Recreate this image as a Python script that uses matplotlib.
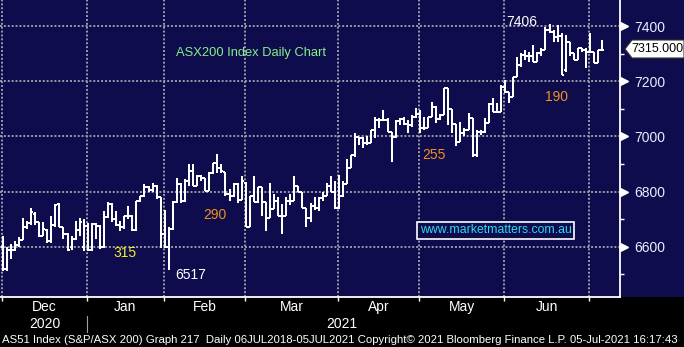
import matplotlib
matplotlib.use('Agg')
import matplotlib.pyplot as plt
from matplotlib.collections import LineCollection
from matplotlib.patches import Rectangle, Polygon
import matplotlib.transforms as mtransforms

# daily OHLC of the ASX200, Dec 2020 - 05 Jul 2021
opens = [
    6600, 6520, 6590, 6590, 6605, 6625, 6670, 6685, 6720, 6690, 6640, 6660, 6620, 6680, 6755, 6670, 6645, 6600, 6630, 6660, 6600,
    6676, 6588, 6683, 6675, 6600, 6707, 6755, 6700, 6680, 6672, 6710, 6713, 6660, 6765, 6785, 6816, 6805, 6820, 6780,
    6647, 6600, 6665, 6761, 6828, 6765, 6837, 6876, 6822, 6858, 6848, 6804, 6869, 6905, 6884, 6870, 6793, 6785, 6828, 6770,
    6833, 6672, 6785, 6761, 6815, 6761, 6705, 6738, 6767, 6713, 6713, 6767, 6767, 6822, 6797, 6742, 6705, 6749, 6742, 6778, 6785, 6822, 6797,
    6740, 6785, 6828, 6884, 6931, 6997, 6995, 6975, 6975, 7022, 7058, 7060, 7060, 7015, 6997, 7055, 7062, 7044, 7040, 7070,
    7080, 7029, 7030, 7069, 7105, 7062, 7076, 7174, 7098, 7044, 6978, 7011, 7022, 7065, 6931, 7015, 7015, 7050, 7116, 7090, 7090,
    7178, 7160, 7142, 7214, 7258, 7294, 7290, 7290, 7269, 7302, 7313, 7385, 7378, 7360, 7365, 7240, 7342, 7302, 7276, 7320, 7313,
    7305, 7305, 7265, 7313,
]
highs = [
    6640, 6600, 6610, 6620, 6635, 6705, 6695, 6740, 6725, 6690, 6690, 6665, 6710, 6755, 6760, 6670, 6650, 6640, 6695, 6705, 6702,
    6685, 6685, 6685, 6680, 6731, 6761, 6760, 6731, 6695, 6713, 6749, 6715, 6767, 6785, 6828, 6820, 6830, 6825, 6780,
    6735, 6670, 6765, 6850, 6830, 6847, 6900, 6900, 6860, 6860, 6850, 6870, 6905, 6938, 6900, 6872, 6811, 6830, 6830, 6858,
    6835, 6785, 6858, 6815, 6815, 6761, 6833, 6790, 6780, 6756, 6780, 6790, 6858, 6822, 6800, 6742, 6760, 6780, 6780, 6800, 6833, 6858, 6840,
    6860, 6840, 6920, 6931, 7011, 6997, 6997, 7000, 7022, 7069, 7065, 7094, 7065, 7015, 7058, 7065, 7069, 7058, 7076, 7102,
    7094, 7069, 7069, 7124, 7112, 7080, 7174, 7174, 7098, 7044, 7051, 7029, 7084, 7065, 7022, 7025, 7065, 7120, 7138, 7120, 7185,
    7204, 7160, 7214, 7287, 7302, 7313, 7305, 7331, 7305, 7320, 7396, 7406, 7385, 7404, 7374, 7367, 7342, 7302, 7320, 7320, 7320,
    7374, 7305, 7313, 7349,
]
lows = [
    6513, 6513, 6555, 6585, 6600, 6625, 6665, 6680, 6680, 6635, 6640, 6615, 6615, 6670, 6670, 6630, 6585, 6590, 6625, 6640, 6585,
    6585, 6585, 6630, 6592, 6597, 6705, 6690, 6676, 6658, 6665, 6700, 6658, 6658, 6762, 6780, 6797, 6800, 6773, 6597,
    6597, 6517, 6660, 6760, 6760, 6761, 6822, 6820, 6820, 6840, 6804, 6804, 6865, 6869, 6869, 6785, 6767, 6780, 6760, 6770,
    6670, 6670, 6761, 6758, 6713, 6658, 6705, 6738, 6713, 6647, 6713, 6750, 6767, 6797, 6742, 6673, 6690, 6735, 6730, 6767, 6785, 6797, 6738,
    6738, 6780, 6828, 6884, 6924, 6970, 6957, 6970, 6975, 6993, 7030, 7058, 7015, 6906, 6993, 7040, 7040, 7011, 7033, 7065,
    7011, 7025, 7029, 7069, 7047, 7058, 7076, 7040, 7011, 6967, 6978, 7000, 7022, 6924, 6924, 7004, 7011, 7047, 7087, 7087, 7090,
    7156, 7120, 7142, 7214, 7250, 7276, 7269, 7269, 7269, 7290, 7313, 7374, 7342, 7342, 7222, 7233, 7290, 7276, 7276, 7305, 7247,
    7302, 7265, 7265, 7313,
]
closes = [
    6520, 6590, 6590, 6605, 6625, 6670, 6685, 6725, 6690, 6640, 6665, 6620, 6680, 6750, 6670, 6645, 6590, 6630, 6660, 6690, 6676,
    6588, 6683, 6675, 6600, 6707, 6755, 6700, 6680, 6672, 6710, 6713, 6660, 6765, 6785, 6816, 6805, 6820, 6780, 6647,
    6600, 6665, 6761, 6828, 6765, 6837, 6876, 6822, 6858, 6848, 6804, 6869, 6905, 6884, 6875, 6793, 6785, 6828, 6770, 6840,
    6672, 6785, 6761, 6815, 6761, 6705, 6738, 6767, 6713, 6713, 6767, 6767, 6822, 6797, 6742, 6705, 6749, 6742, 6778, 6785, 6822, 6797, 6740,
    6785, 6828, 6884, 6931, 6997, 6995, 6975, 6975, 7022, 7058, 7060, 7060, 7015, 6997, 7055, 7062, 7044, 7040, 7070, 7080,
    7029, 7030, 7069, 7105, 7062, 7076, 7174, 7098, 7044, 6978, 7011, 7022, 7065, 6931, 7015, 7015, 7050, 7116, 7090, 7090, 7178,
    7160, 7142, 7214, 7258, 7294, 7290, 7290, 7269, 7302, 7313, 7385, 7378, 7360, 7365, 7222, 7342, 7302, 7276, 7320, 7313, 7305,
    7305, 7265, 7313, 7315,
]

month_labels = ['Dec', 'Jan', 'Feb', 'Mar', 'Apr', 'May', 'Jun']
month_starts = [0, 21, 40, 60, 83, 103, 124, 145]   # bar index of first day of each month
year_labels = ['2020', '2021']
last_price = '7315.000'

NAVY = '#0e0c4c'
W, H = 684, 347


def fx(px):
    return px / W


def fy(py):
    return 1 - py / H


plt.rcParams['font.family'] = ['Liberation Sans', 'DejaVu Sans']

fig = plt.figure(figsize=(6.84, 3.47), dpi=100, facecolor='black')
fig.patches.append(Rectangle((0, fy(297)), 1, 1 - fy(297), transform=fig.transFigure,
                             facecolor=NAVY, edgecolor='none', zorder=-5))
ax = fig.add_axes([0, fy(297), fx(620), 1 - fy(297)])
ax.set_facecolor(NAVY)

n = len(closes)
segs = []
for i in range(n):
    segs.append([(i, lows[i]), (i, highs[i])])
    segs.append([(i - 0.5, opens[i]), (i, opens[i])])
    segs.append([(i, closes[i]), (i + 0.5, closes[i])])
ax.add_collection(LineCollection(segs, colors='white', linewidths=1.1, zorder=3,
                                 capstyle='butt', antialiased=False))

ax.set_xlim(-0.67, 152.4)
ax.set_ylim(6418, 7494.5)

# grid
bounds = [s - 0.2 for s in month_starts]
for b in bounds:
    ax.axvline(b, color='#9a9aa6', lw=1.4, ls=(0, (1, 1)), zorder=1)
for v in [6600, 6800, 7000, 7200, 7400]:
    ax.axhline(v, color='#9a9aa6', lw=1.4, ls=(0, (1, 1)), zorder=1)

for s in ['top', 'left']:
    ax.spines[s].set_visible(False)
for s in ['right', 'bottom']:
    ax.spines[s].set_color('white')
    ax.spines[s].set_linewidth(1.3)

# right axis
ax.yaxis.tick_right()
ax.set_yticks([6600, 6800, 7000, 7200, 7400])
ax.set_yticks([6500, 6700, 6900, 7100, 7300], minor=True)
ax.tick_params(axis='y', which='major', length=0, pad=10, labelsize=10, labelcolor='#e8eeff')
ax.tick_params(axis='y', which='minor', length=3, width=1, color='white', direction='out')
ytr = mtransforms.blended_transform_factory(ax.transAxes, ax.transData)
ax.plot([1.0068] * 5, [6600, 6800, 7000, 7200, 7400], '>', color='white', ms=5.5,
        transform=ytr, clip_on=False, zorder=5)

# bottom axis
ax.set_xticks(bounds)
ax.set_xticklabels([])
ax.tick_params(axis='x', length=3, width=1, color='white', direction='out')
xtr = mtransforms.blended_transform_factory(ax.transData, fig.transFigure)
for k, lab in enumerate(month_labels):
    ax.text((bounds[k] + bounds[k + 1]) / 2, fy(307), lab, transform=xtr, color='white',
            ha='center', va='center', fontsize=10)
ax.text((bounds[0] + bounds[1]) / 2, fy(324), year_labels[0], transform=xtr, color='white',
        ha='center', va='center', fontsize=10)
ax.text((bounds[1] + bounds[-1]) / 2 + 1, fy(324), year_labels[1], transform=xtr, color='white',
        ha='center', va='center', fontsize=10)
ax.plot([bounds[1], bounds[1]], [fy(316), fy(332)], color='#a0a0a0', lw=0.8,
        transform=xtr, clip_on=False)

fig.text(fx(2), fy(340), 'AS51 Index (S&P/ASX 200) Graph 217  Daily 06JUL2018-05JUL2021 '
         'Copyright\u00a9 2021 Bloomberg Finance L.P. 05-Jul-2021 16:17:43',
         color='white', ha='left', va='center', fontsize=8.2)

# annotations
ax.text(42.8, 7302, 'ASX200 Index Daily Chart', color='#86f086', fontsize=9.3, ha='left', va='center')
ax.text(30.2, 6578, '315', color='#f5f020', fontsize=10, ha='center', va='center')
ax.text(46.3, 6498, '6517', color='white', fontsize=10, ha='center', va='center')
ax.text(52.5, 6716, '290', color='#f09020', fontsize=10, ha='center', va='center')
ax.text(106.5, 6931, '255', color='#f09020', fontsize=10, ha='center', va='center')
ax.text(128.2, 7414, '7406', color='white', fontsize=10, ha='center', va='center')
ax.text(136.6, 7142, '190', color='#f09020', fontsize=10, ha='center', va='center')
ax.text(121.7, 6660, 'www.marketmatters.com.au', color='#30d8f0', fontsize=8.8,
        ha='center', va='center', zorder=6,
        bbox=dict(boxstyle='square,pad=0.2', facecolor=NAVY, edgecolor='white', lw=1.2))

# last price tag
tag = Polygon([(fx(625), fy(49)), (fx(632), fy(40)), (fx(684), fy(40)), (fx(684), fy(58)), (fx(632), fy(58))],
              closed=True, transform=fig.transFigure, facecolor='white', edgecolor='#333333', lw=0.8, zorder=6)
fig.patches.append(tag)
fig.text(fx(657), fy(49), last_price, color='black', ha='center', va='center', fontsize=9, zorder=7)

fig.savefig('out.png', dpi=100, facecolor='black')
